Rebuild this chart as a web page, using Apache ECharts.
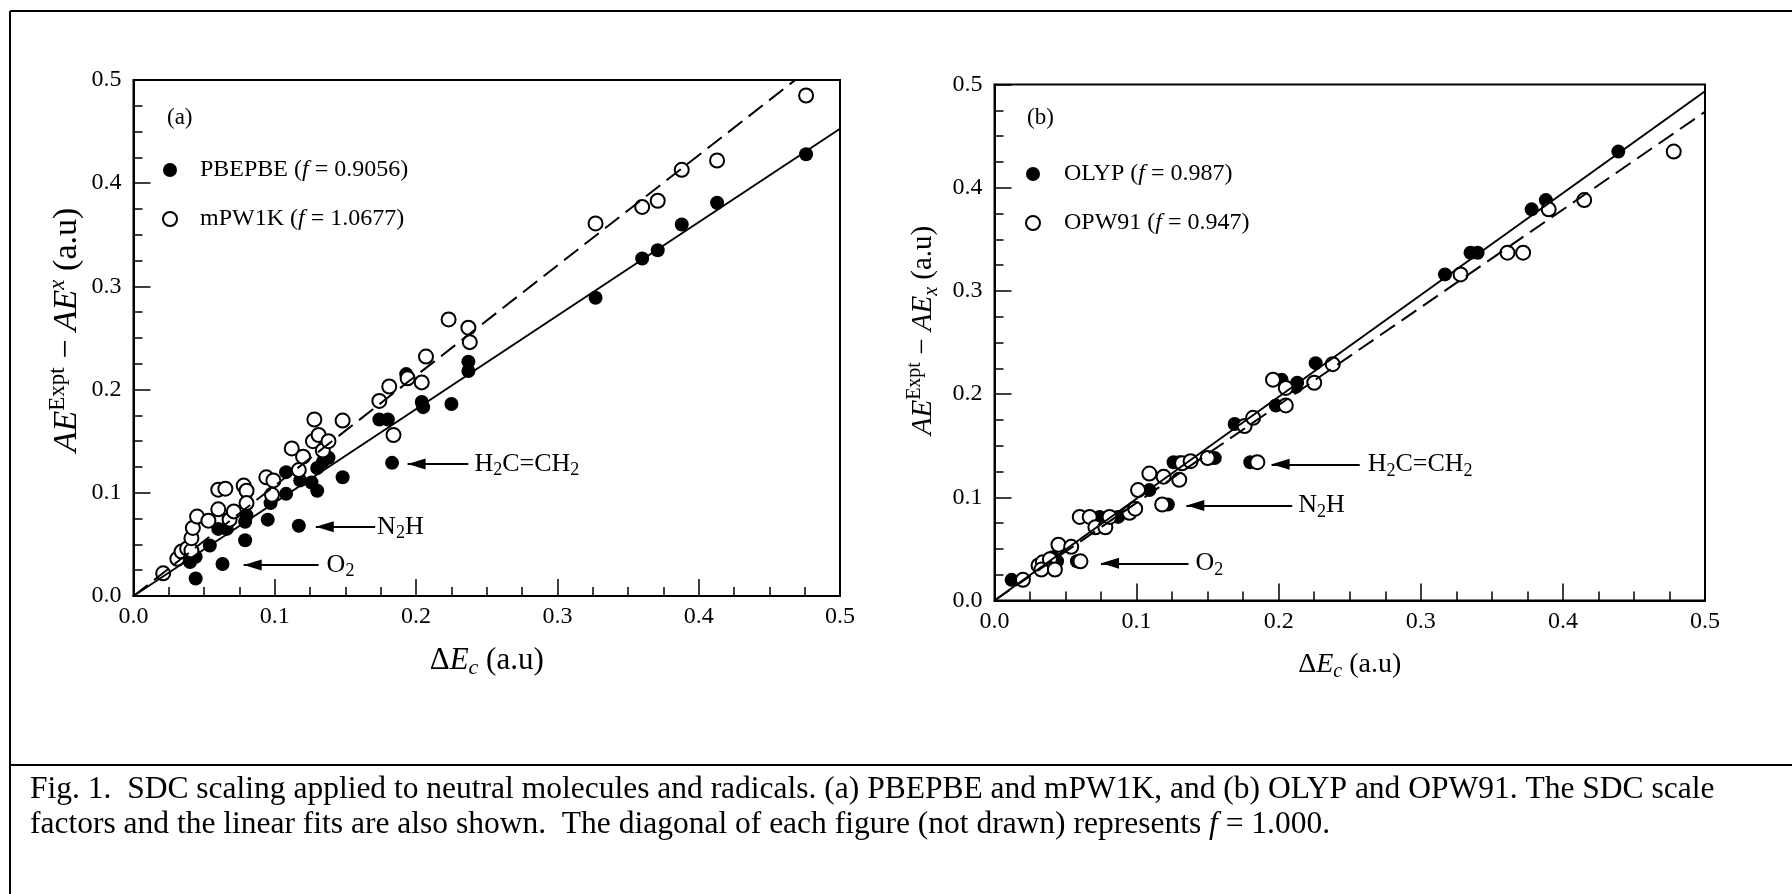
<!DOCTYPE html>
<html><head><meta charset="utf-8">
<script src="https://cdn.jsdelivr.net/npm/echarts@6/dist/echarts.min.js"></script>
<style>html,body{margin:0;padding:0;background:#fff}#c{width:1792px;height:894px}</style>
</head><body><div id="c"></div>
<script>
const FONT = "'Liberation Serif','Times New Roman',serif";

// ---- data ----
const namesA = ['PBEPBE', 'mPW1K'];
const fA = [0.9056, 1.0677];
const namesB = ['OLYP', 'OPW91'];
const fB = [0.987, 0.947];

const pbepbe = [[0.044,0.017],[0.063,0.031],[0.040,0.033],[0.044,0.038],[0.054,0.049],[0.079,0.054],
 [0.060,0.065],[0.066,0.065],[0.079,0.072],[0.080,0.078],[0.095,0.074],[0.117,0.068],[0.097,0.090],
 [0.108,0.099],[0.108,0.120],[0.118,0.112],[0.126,0.110],[0.130,0.102],[0.130,0.124],[0.134,0.130],
 [0.138,0.134],[0.148,0.115],[0.183,0.129],[0.174,0.171],[0.180,0.171],[0.193,0.215],[0.204,0.188],
 [0.205,0.183],[0.225,0.186],[0.237,0.227],[0.237,0.218],[0.327,0.289],[0.360,0.327],[0.371,0.335],
 [0.388,0.360],[0.413,0.381],[0.476,0.428]];
const mpw1k = [[0.021,0.022],[0.031,0.036],[0.034,0.043],[0.038,0.046],[0.041,0.044],[0.041,0.056],
 [0.042,0.066],[0.045,0.077],[0.053,0.073],[0.060,0.084],[0.068,0.074],[0.071,0.082],[0.060,0.103],
 [0.065,0.104],[0.078,0.107],[0.080,0.102],[0.080,0.090],[0.094,0.115],[0.099,0.112],[0.098,0.098],
 [0.112,0.143],[0.117,0.122],[0.120,0.135],[0.127,0.150],[0.131,0.156],[0.134,0.141],[0.138,0.150],
 [0.128,0.171],[0.148,0.170],[0.174,0.189],[0.181,0.203],[0.184,0.156],[0.194,0.211],[0.204,0.207],
 [0.207,0.232],[0.223,0.268],[0.237,0.260],[0.238,0.246],[0.327,0.361],[0.360,0.377],[0.371,0.383],
 [0.388,0.413],[0.413,0.422],[0.476,0.485]];
const olyp = [[0.012,0.020],[0.041,0.042],[0.044,0.038],[0.058,0.038],[0.074,0.081],[0.087,0.081],
 [0.109,0.107],[0.122,0.093],[0.126,0.134],[0.130,0.134],[0.152,0.138],[0.155,0.138],[0.180,0.134],
 [0.169,0.171],[0.198,0.189],[0.202,0.214],[0.212,0.207],[0.213,0.211],[0.226,0.230],[0.317,0.316],
 [0.335,0.337],[0.340,0.337],[0.378,0.379],[0.388,0.388],[0.439,0.435]];
const opw91 = [[0.020,0.020],[0.031,0.034],[0.034,0.037],[0.039,0.040],[0.033,0.030],[0.0425,0.030],
 [0.045,0.054],[0.054,0.052],[0.0605,0.038],[0.060,0.081],[0.067,0.081],[0.071,0.071],[0.078,0.071],
 [0.081,0.081],[0.095,0.085],[0.099,0.089],[0.101,0.107],[0.118,0.093],[0.109,0.123],[0.119,0.120],
 [0.130,0.117],[0.132,0.133],[0.138,0.135],[0.150,0.138],[0.185,0.134],[0.176,0.169],[0.182,0.177],
 [0.196,0.214],[0.205,0.206],[0.205,0.189],[0.225,0.211],[0.238,0.229],[0.328,0.316],[0.361,0.337],
 [0.372,0.337],[0.390,0.379],[0.415,0.388],[0.478,0.435]];

const noteLabels = ['H{s|2}C=CH{s|2}', 'N{s|2}H', 'O{s|2}'];
const tipsA = [[0.194,0.128],[0.129,0.067],[0.078,0.030]];
const tailsA = [[0.237,0.128],[0.171,0.067],[0.131,0.030]];
const tipsB = [[0.195,0.132],[0.135,0.092],[0.075,0.036]];
const tailsB = [[0.257,0.132],[0.2095,0.092],[0.1365,0.036]];
const gapA = [6, 2, 8];
const gapB = [8, 6, 7];

const cap1 = 'Fig. 1.  SDC scaling applied to neutral molecules and radicals. (a) PBEPBE and mPW1K, and (b) OLYP and OPW91. The SDC scale';
const cap2 = 'factors and the linear fits are also shown.  The diagonal of each figure (not drawn) represents {i|f} = 1.000.';

// ---- build ----
const chart = echarts.init(document.getElementById('c'), null, {renderer: 'canvas'});

function mkX(gi, fs, gap) {
  return {
    type: 'value', gridIndex: gi, min: 0, max: 0.5, interval: 0.1,
    name: '{t|Δ}{i|E}{sub|c}{t| (a.u)}', nameLocation: 'middle', nameGap: gap, nameMoveOverlap: false,
    nameTextStyle: {fontFamily: FONT, fontSize: fs, color: '#000', lineHeight: fs + 6,
      rich: {t: {fontSize: fs, lineHeight: fs + 6}, i: {fontSize: fs, fontStyle: 'italic', lineHeight: fs + 6},
             sub: {fontSize: Math.round(fs * 0.7), fontStyle: 'italic', lineHeight: Math.round(fs * 0.7), verticalAlign: 'bottom'}}},
    axisLine: {show: true, onZero: false, lineStyle: {color: '#000', width: 2}},
    axisTick: {show: true, inside: true, length: 17, lineStyle: {color: '#000', width: 1.5}},
    minorTick: {show: true, splitNumber: 4, length: 9, lineStyle: {color: '#000', width: 1.5}},
    axisLabel: {color: '#000', fontFamily: FONT, fontSize: 24, margin: 9, formatter: v => v.toFixed(1)},
    splitLine: {show: false}, minorSplitLine: {show: false}
  };
}
function mkY(gi, fs, gap, second, shift) {
  const sub = second ? '{subi|x}' : '{supi|x}';
  const s = Math.round(fs * 0.68);
  return {
    type: 'value', gridIndex: gi, min: 0, max: 0.5, interval: 0.1,
    name: '{i|AE}{sup|Expt}{t| − }{i|AE}' + sub + '{t| (a.u)}',
    nameLocation: 'middle', nameGap: gap, nameRotate: 90, nameMoveOverlap: false,
    nameTextStyle: {fontFamily: FONT, fontSize: fs, color: '#000', lineHeight: fs + 8, padding: [0, 0, 0, shift],
      rich: {t: {fontSize: fs, lineHeight: fs + 8}, i: {fontSize: fs, fontStyle: 'italic', lineHeight: fs + 8},
             sup: {fontSize: s, lineHeight: s, verticalAlign: 'top'},
             supi: {fontSize: s, fontStyle: 'italic', lineHeight: s, verticalAlign: 'top'},
             subi: {fontSize: s, fontStyle: 'italic', lineHeight: s, verticalAlign: 'bottom'}}},
    axisLine: {show: true, onZero: false, lineStyle: {color: '#000', width: 2}},
    axisTick: {show: true, inside: true, length: 17, lineStyle: {color: '#000', width: 1.5}},
    minorTick: {show: true, splitNumber: 4, length: 9, lineStyle: {color: '#000', width: 1.5}},
    axisLabel: {color: '#000', fontFamily: FONT, fontSize: 24, margin: 12, formatter: v => v.toFixed(1)},
    splitLine: {show: false}, minorSplitLine: {show: false}
  };
}
function scatter(name, data, gi, filled) {
  return {
    type: 'scatter', name, data, xAxisIndex: gi, yAxisIndex: gi, symbol: 'circle', symbolSize: 14,
    itemStyle: filled ? {color: '#000', opacity: 1} : {color: '#fff', borderColor: '#000', borderWidth: 2, opacity: 1},
    emphasis: {disabled: true}, silent: true, z: 2
  };
}
function fitLine(f, gi, dashed, notes) {
  const s = {
    type: 'line', data: [[0, 0], [0.5, 0.5 * f]], xAxisIndex: gi, yAxisIndex: gi,
    symbol: 'none', showSymbol: false, clip: true, silent: true, z: 3,
    lineStyle: {color: '#000', width: 2, type: dashed ? [18, 8] : 'solid'}
  };
  if (notes) {
    s.markLine = {
      silent: true, animation: false, symbol: ['triangle', 'none'], symbolSize: [11, 18], symbolOffset: [[0, 9], 0],
      lineStyle: {color: '#000', width: 2, type: 'solid'},
      label: {show: true, position: 'end', color: '#000', fontFamily: FONT, fontSize: 26, lineHeight: 31,
        rich: {s: {fontSize: 18, lineHeight: 18, verticalAlign: 'bottom'}}},
      data: notes.tips.map((t, i) => [
        {coord: t, label: {formatter: noteLabels[i], distance: notes.gap[i]}},
        {coord: notes.tails[i]}])
    };
  }
  return s;
}
function fLabel(name, f) { return name + ' ({i|f} = ' + f + ')'; }

const option = {
  animation: false,
  backgroundColor: '#fff',
  grid: [
    {left: 133.5, top: 80, width: 706.5, height: 516, show: true, borderColor: '#000', borderWidth: 2, containLabel: false},
    {left: 994.5, top: 84.5, width: 710.5, height: 516, show: true, borderColor: '#000', borderWidth: 2, containLabel: false}
  ],
  xAxis: [mkX(0, 31, 46), mkX(1, 28, 47)],
  yAxis: [mkY(0, 34, 45, false, 16), mkY(1, 29, 53, true, 24)],
  legend: [
    {data: namesA, left: 157, top: 153, orient: 'vertical', itemGap: 25, itemWidth: 50, itemHeight: 14,
     icon: 'circle', selectedMode: false, formatter: n => fLabel(n, fA[namesA.indexOf(n)]),
     textStyle: {fontFamily: FONT, fontSize: 24, color: '#000', rich: {i: {fontStyle: 'italic', fontSize: 24}}}},
    {data: namesB, left: 1020, top: 157, orient: 'vertical', itemGap: 25, itemWidth: 52, itemHeight: 14,
     icon: 'circle', selectedMode: false, formatter: n => fLabel(n, fB[namesB.indexOf(n)]),
     textStyle: {fontFamily: FONT, fontSize: 24, color: '#000', rich: {i: {fontStyle: 'italic', fontSize: 24}}}}
  ],
  series: [
    scatter(namesA[0], pbepbe, 0, true),
    scatter(namesA[1], mpw1k, 0, false),
    fitLine(fA[0], 0, false, {tips: tipsA, tails: tailsA, gap: gapA}),
    fitLine(fA[1], 0, true, null),
    scatter(namesB[0], olyp, 1, true),
    scatter(namesB[1], opw91, 1, false),
    fitLine(fB[0], 1, false, {tips: tipsB, tails: tailsB, gap: gapB}),
    fitLine(fB[1], 1, true, null)
  ],
  graphic: [
    {type: 'line', silent: true, shape: {x1: 10, y1: 11, x2: 1792, y2: 11}, style: {stroke: '#000', lineWidth: 2}},
    {type: 'line', silent: true, shape: {x1: 10, y1: 11, x2: 10, y2: 894}, style: {stroke: '#000', lineWidth: 2}},
    {type: 'line', silent: true, shape: {x1: 10, y1: 765, x2: 1792, y2: 765}, style: {stroke: '#000', lineWidth: 2}},
    {type: 'text', silent: true, left: 167, top: 106, style: {text: '(a)', fontFamily: FONT, fontSize: 23, fill: '#000'}},
    {type: 'text', silent: true, left: 1027, top: 106, style: {text: '(b)', fontFamily: FONT, fontSize: 23, fill: '#000'}},
    {type: 'text', silent: true, left: 30, top: 774, style: {text: cap1, fontFamily: FONT, fontSize: 31.5, fill: '#000'}},
    {type: 'text', silent: true, left: 30, top: 809, style: {text: cap2, fontFamily: FONT, fontSize: 31.5, fill: '#000',
      rich: {i: {fontStyle: 'italic', fontSize: 31.5, fontFamily: FONT}}}}
  ]
};
chart.setOption(option);
</script></body></html>
